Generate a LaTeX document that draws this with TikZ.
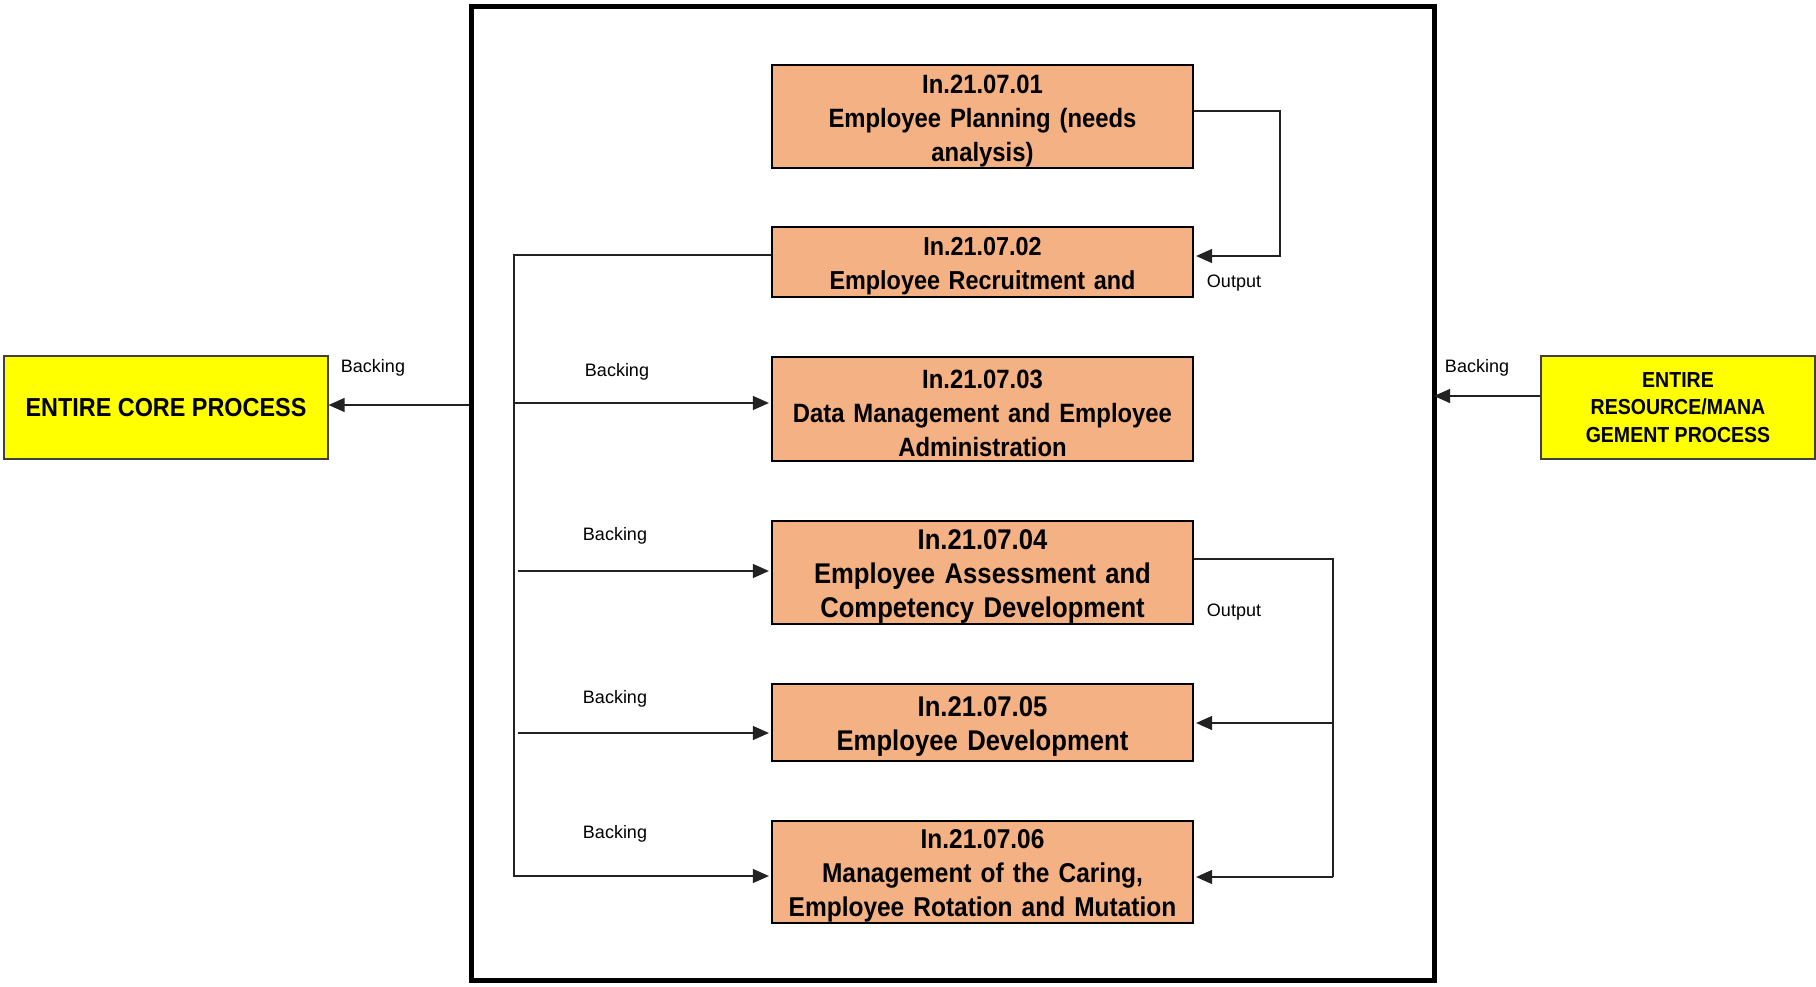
\documentclass[tikz,border=0pt]{standalone}
\usepackage{fontspec}
\setmainfont{Liberation Sans}
\newfontfamily\narrowsans[FakeStretch=0.9]{Liberation Sans}
\usetikzlibrary{arrows.meta}
\definecolor{procfill}{HTML}{F4B183}
\definecolor{corefill}{HTML}{FFFF00}
\definecolor{wire}{HTML}{222222}
\begin{document}
\begin{tikzpicture}[x=1pt,y=-1pt,
  procbox/.style={draw=black, line width=2.2pt, fill=procfill, minimum width=421pt,
    text width=418pt, align=center, inner sep=0pt,
    font=\narrowsans\bfseries\fontsize{#1}{34}\selectfont,
    execute at begin node={\rule{0pt}{27pt}}},
  corebox/.style={draw=black!75, line width=1.2pt, fill=corefill, minimum width=324pt,
    minimum height=103pt, align=center, inner sep=0pt},
  framebox/.style={draw=black, line width=5pt, minimum width=963pt, minimum height=974pt,
    inner sep=0pt},
  lbl/.style={inner sep=0pt, font=\fontsize{18}{20}\selectfont},
  conn/.style={draw=wire, line width=1.3pt},
  arr/.style={conn, -{Triangle[length=16pt,width=14pt]}, shorten >=2pt}
]
\useasboundingbox (0,0) rectangle (1816,986);

% outer process frame
\node[framebox] (frame) at (952.5,493) {};

% process steps
\node[procbox=26.5, minimum height=103pt] (b1) at (982.5,116.5)
  {In.21.07.01\\Employee Planning (needs\\analysis)};
\node[procbox=26, minimum height=70pt] (b2) at (982.5,262)
  {In.21.07.02\\Employee Recruitment and};
\node[procbox=26.5, minimum height=104pt] (b3) at (982.5,409)
  {In.21.07.03\\Data Management and Employee\\Administration};
\node[procbox=28.5, minimum height=103pt] (b4) at (982.5,572.5)
  {In.21.07.04\\Employee Assessment and\\Competency Development};
\node[procbox=28.5, minimum height=77pt] (b5) at (982.5,722.5)
  {In.21.07.05\\Employee Development};
\node[procbox=27.2, minimum height=102pt] (b6) at (982.5,872)
  {In.21.07.06\\Management of the Caring,\\Employee Rotation and Mutation};

% neighbouring processes
\node[corebox, font=\narrowsans\bfseries\fontsize{26}{30}\selectfont] (core) at (166,407.5)
  {ENTIRE CORE PROCESS};
\node[corebox, minimum width=274pt, font=\narrowsans\bfseries\fontsize{21.7}{27.5}\selectfont]
  (mgmt) at (1678,407.5) {ENTIRE\\RESOURCE/MANA\\GEMENT PROCESS};

% output from planning to recruitment
\draw[arr] ([yshift=5.5pt]b1.east) -- ++(86,0) |- ([yshift=6pt]b2.east);
\node[lbl] (out1) at (1234,283) {Output};

% backing bus on the left
\coordinate (bus) at (514,876);
\coordinate (in3) at ([yshift=6pt]b3.west);
\coordinate (in4) at ([yshift=1.5pt]b4.west);
\coordinate (in5) at ([yshift=-10.5pt]b5.west);
\draw[arr] ([yshift=7pt]b2.west) -| (bus) -- ([yshift=-4pt]b6.west);
\draw[arr] (in3 -| bus) -- (in3);
\draw[arr] ([xshift=4pt]in4 -| bus) -- (in4);
\draw[arr] ([xshift=4pt]in5 -| bus) -- (in5);
\node[lbl] (bk3) at (617,372) {Backing};
\node[lbl] (bk4) at (615,536) {Backing};
\node[lbl] (bk5) at (615,699) {Backing};
\node[lbl] (bk6) at (615,834) {Backing};

% output from assessment to development and rotation
\coordinate (rbus) at (1333,877);
\draw[conn] ([yshift=13.5pt]b4.east) -| (rbus);
\draw[arr] (rbus) -- ([yshift=-5pt]b6.east);
\draw[arr] ([yshift=-0.5pt]b5.east -| rbus) -- ([yshift=-0.5pt]b5.east);
\node[lbl] (out2) at (1234,612) {Output};

% backing towards and from the neighbouring processes
\draw[arr, shorten >=0pt] ([yshift=2.5pt]core.east -| frame.west) -- ([yshift=2.5pt]core.east);
\node[lbl] (bkl) at (373,368) {Backing};
\draw[arr, shorten >=-2.5pt] ([yshift=11.5pt]mgmt.west) -- ([yshift=11.5pt]mgmt.west -| frame.east);
\node[lbl] (bkr) at (1477,368) {Backing};
\end{tikzpicture}
\end{document}
